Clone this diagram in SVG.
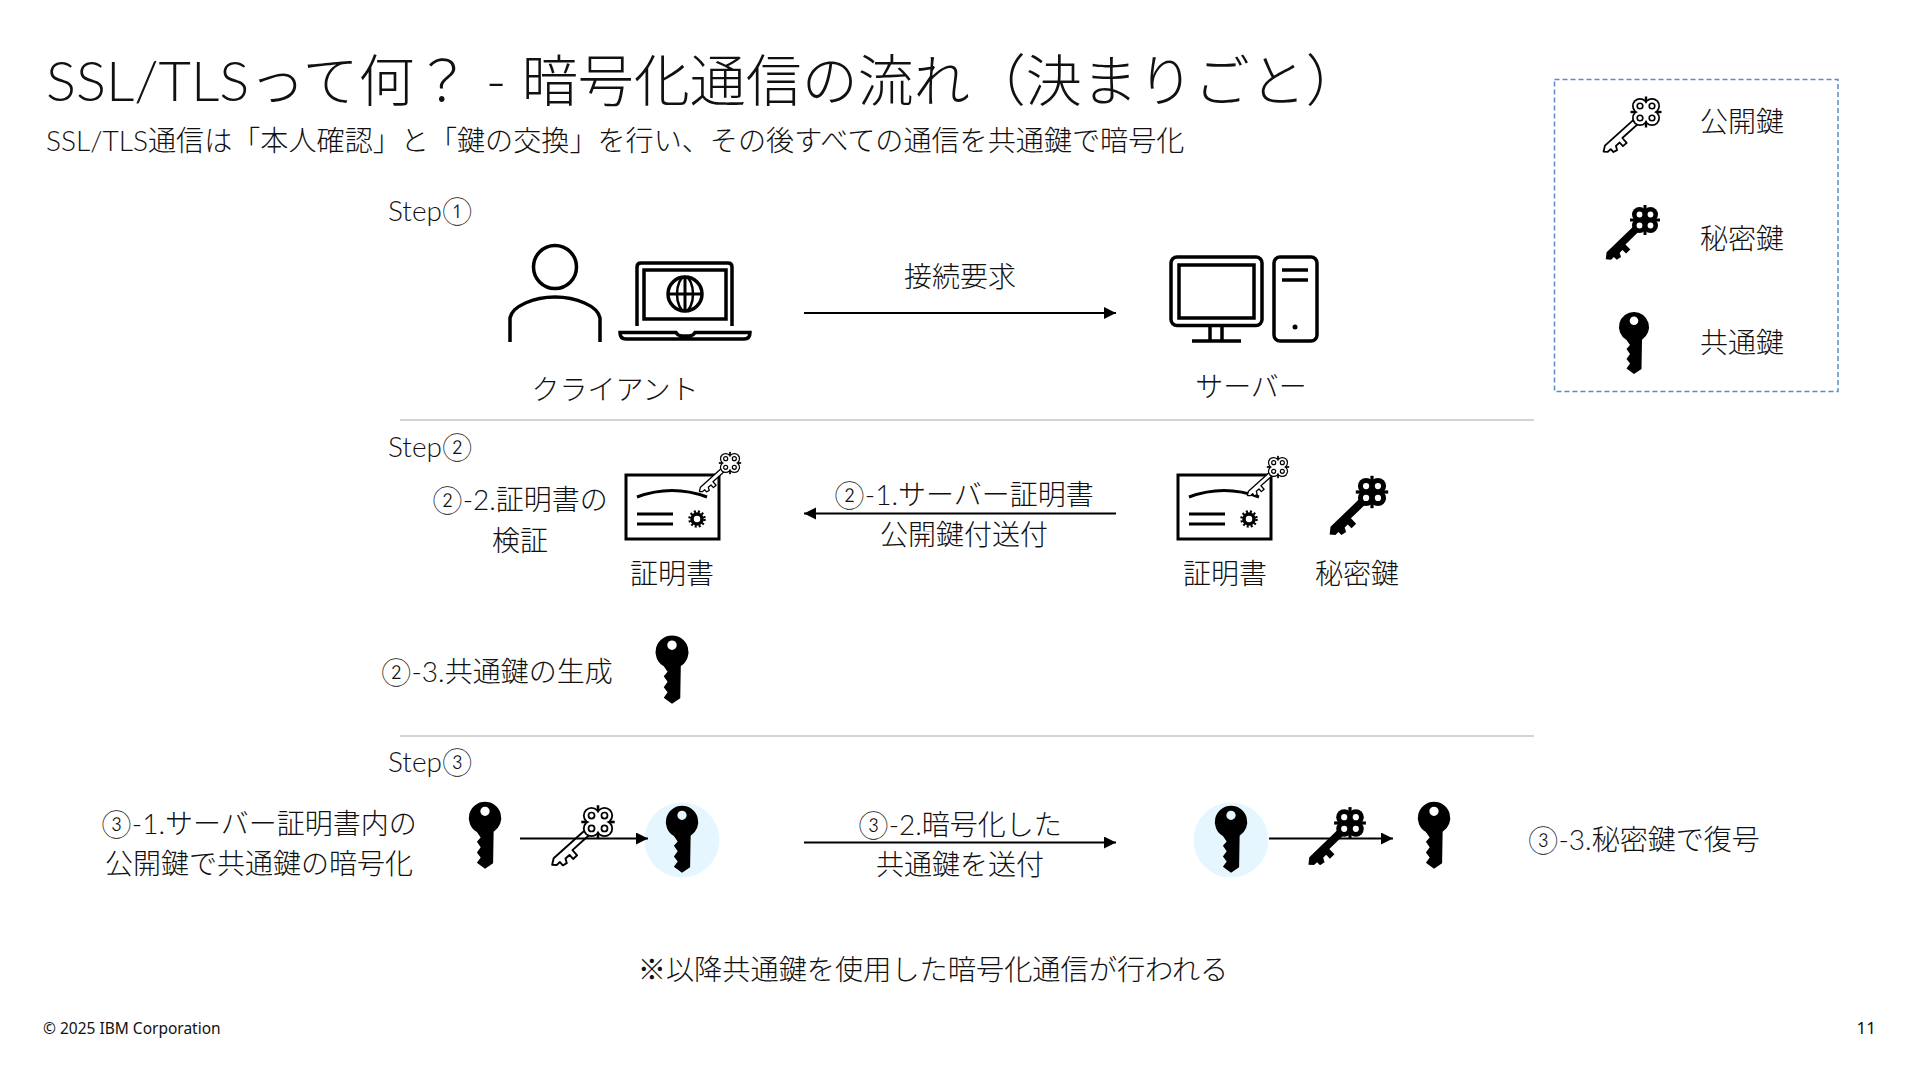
<svg xmlns="http://www.w3.org/2000/svg" xmlns:xlink="http://www.w3.org/1999/xlink" width="1920" height="1080" viewBox="0 0 1920 1080">
<style>
text{font-family:"Lato","Noto Sans CJK JP",sans-serif;font-weight:300;fill:#111;font-size:28px}
.t{font-size:56px}
.s{font-size:28.100px}
.m{text-anchor:middle}
.f{font-family:"Noto Sans","Noto Sans CJK JP",sans-serif;font-weight:400;font-size:15.500px}
.ln{fill:none;stroke:#000;stroke-width:3.500}
.ln2{fill:none;stroke:#000;stroke-width:3}
.sep{stroke:#d4d4d4;stroke-width:2}
.con{stroke:#000;stroke-width:2;fill:none}
.tint{fill:#e5f6ff}
</style>
<defs>
<marker id="ah" markerUnits="userSpaceOnUse" markerWidth="13" markerHeight="13" refX="12" refY="6" orient="auto"><path d="M0 0L12 6L0 12Z" fill="#000"/></marker>
<g id="solid"><path fill-rule="evenodd" d="M0-15A15 15 0 0 1 8 12.7L7.500 42L0 47L-7.500 41.500L-4 36.500L-7.500 32L-4 27L-7.500 22L-4 18L-7.500 13A15 15 0 0 1 0-15ZM0-10.500A4.300 4.300 0 1 0 0-1.900A4.300 4.300 0 1 0 0-10.500Z" fill="#000"/></g>
<g id="keyPub">
<path transform="rotate(48)" fill="#fff" stroke="#000" stroke-width="1.800" stroke-linejoin="round" d="M-2.500 12L-2.500 53L1 58L4 55L4 51L8 51L9 47L5 45L5 40L10 40L10 35L3.500 35L3.500 12Z"/>
<g fill="#000"><circle cx="-6" cy="-6" r="8"/><circle cx="6" cy="-6" r="8"/><circle cx="-6" cy="6" r="8"/><circle cx="6" cy="6" r="8"/><rect x="-1.200" y="-15.500" width="2.400" height="31"/><rect x="-15.500" y="-1.200" width="31" height="2.400"/></g>
<g fill="#fff"><circle cx="-6" cy="-6" r="6.300"/><circle cx="6" cy="-6" r="6.300"/><circle cx="-6" cy="6" r="6.300"/><circle cx="6" cy="6" r="6.300"/><rect x="-6" y="-6" width="12" height="12"/></g>
<g fill="none" stroke="#000" stroke-width="1.600"><circle cx="-6" cy="-6" r="2.800"/><circle cx="6" cy="-6" r="2.800"/><circle cx="-6" cy="6" r="2.800"/><circle cx="6" cy="6" r="2.800"/></g>
</g>
<g id="keyPri">
<path transform="rotate(46)" fill="#000" d="M-3.500 10L-3.500 50L1 55.500L5 52L5 48L9 48L10 43L6 41L6 37L11 37L11 31L4 31L4 10Z"/>
<g fill="#000"><circle cx="-5.500" cy="-5.500" r="7.500"/><circle cx="5.500" cy="-5.500" r="7.500"/><circle cx="-5.500" cy="5.500" r="7.500"/><circle cx="5.500" cy="5.500" r="7.500"/><rect x="-1.500" y="-15" width="3" height="30"/><rect x="-15" y="-1.500" width="30" height="3"/></g>
<g fill="#fff"><circle cx="-5.500" cy="-5.500" r="2.900"/><circle cx="5.500" cy="-5.500" r="2.900"/><circle cx="-5.500" cy="5.500" r="2.900"/><circle cx="5.500" cy="5.500" r="2.900"/></g>
</g>
<g id="cert">
<rect x="0" y="0" width="93" height="64" fill="#fff" stroke="#000" stroke-width="3"/>
<path class="ln2" d="M11 22Q46 9 81 22"/>
<path class="ln2" d="M11 39H47M11 49H47"/>
<circle cx="71" cy="44" r="5" fill="#fff" stroke="#000" stroke-width="3.500"/>
<circle cx="71" cy="44" r="7.500" fill="none" stroke="#000" stroke-width="2.500" stroke-dasharray="2 2"/>
</g>
</defs>

<g id="title">
<text class="t" x="46" y="101">SSL/TLSって何？ - 暗号化通信の流れ（決まりごと）</text>
<text class="s" x="46" y="151">SSL/TLS通信は「本人確認」と「鍵の交換」を行い、その後すべての通信を共通鍵で暗号化</text>
</g>

<g id="legend">
<rect x="1554.500" y="79.500" width="283.500" height="312" fill="none" stroke="#5b8bc9" stroke-width="1.500" stroke-dasharray="5 3"/>
<use href="#keyPub" transform="translate(1646 112)"/>
<text x="1700" y="132">公開鍵</text>
<use href="#keyPri" transform="translate(1645 220)"/>
<text x="1700" y="249">秘密鍵</text>
<use href="#solid" transform="translate(1634 327)"/>
<text x="1700" y="353">共通鍵</text>
</g>

<g id="separators">
<line class="sep" x1="400" y1="420" x2="1534" y2="420"/>
<line class="sep" x1="400" y1="736" x2="1534" y2="736"/>
</g>

<g id="step1">
<text x="388" y="221">Step①</text>
</g>

<g id="client">
<circle class="ln" cx="555" cy="267" r="21.500"/>
<path class="ln" d="M510 342V318C512 306 534 297 555 297C576 297 598 306 600 318V342"/>
<path class="ln" d="M637 326V267Q637 263 641 263H728Q732 263 732 267V326"/>
<rect class="ln" x="644" y="270" width="82" height="49"/>
<circle class="ln" cx="685" cy="294" r="17"/>
<ellipse cx="685" cy="294" rx="8" ry="17" fill="none" stroke="#000" stroke-width="2.500"/>
<path class="ln2" d="M668 294H702M685 277V311"/>
<path class="ln" d="M620 332.500H676Q678 336 682 336H689Q693 336 695 332.500H750Q750 339 744 339H626Q620 339 620 332.500Z"/>
<text class="m" x="615" y="400">クライアント</text>
</g>

<g id="server">
<rect class="ln" x="1171" y="257" width="91" height="68.500" rx="6"/>
<rect class="ln" x="1179" y="265" width="75" height="53"/>
<path class="ln" d="M1210 326V341M1222 326V341M1192 341H1241"/>
<rect class="ln" x="1274" y="257" width="43" height="84" rx="6"/>
<path class="ln" d="M1282 270H1308M1282 280H1308"/>
<circle cx="1295" cy="327" r="2.500" fill="#000"/>
<text class="m" x="1251" y="397">サーバー</text>
</g>

<g id="connectors">
<line class="con" x1="804" y1="313" x2="1116" y2="313" marker-end="url(#ah)"/>
<line class="con" x1="1116" y1="513.500" x2="804" y2="513.500" marker-end="url(#ah)"/>
<line class="con" x1="804" y1="842.500" x2="1116" y2="842.500" marker-end="url(#ah)"/>
</g>
<text class="m" x="960" y="287">接続要求</text>

<g id="step2">
<text x="388" y="457">Step②</text>
<text class="m" x="520" y="510">②-2.証明書の</text>
<text class="m" x="520" y="551">検証</text>
<text class="m" x="964" y="505">②-1.サーバー証明書</text>
<text class="m" x="964" y="545">公開鍵付送付</text>
</g>
<g id="cert-client">
<use href="#cert" transform="translate(626 475)"/>
<use href="#keyPub" transform="translate(730 463) scale(.72)"/>
<text class="m" x="672" y="584">証明書</text>
</g>
<g id="cert-server">
<use href="#cert" transform="translate(1178 475)"/>
<use href="#keyPub" transform="translate(1278 467) scale(.72)"/>
<text class="m" x="1225" y="584">証明書</text>
</g>
<g id="private-server">
<use href="#keyPri" transform="translate(1372 492) scale(1.080)"/>
<text class="m" x="1357" y="584">秘密鍵</text>
</g>
<g id="shared-gen">
<text x="381" y="682">②-3.共通鍵の生成</text>
<use href="#solid" transform="translate(672 652) scale(1.100)"/>
</g>

<g id="step3">
<text x="388" y="772">Step③</text>
<text class="m" x="259" y="834">③-1.サーバー証明書内の</text>
<text class="m" x="259" y="874">公開鍵で共通鍵の暗号化</text>
<text class="m" x="960" y="835">③-2.暗号化した</text>
<text class="m" x="960" y="875">共通鍵を送付</text>
<text x="1528" y="850">③-3.秘密鍵で復号</text>
</g>
<g id="encrypt">
<use href="#solid" transform="translate(485 818) scale(1.080)"/>
<use href="#keyPub" transform="translate(598 822) scale(1.080)"/>
<circle class="tint" cx="682" cy="840" r="37.500"/>
<use href="#solid" transform="translate(682 822) scale(1.080)"/>
<line class="con" x1="520" y1="838.500" x2="648" y2="838.500" marker-end="url(#ah)"/>
</g>
<g id="decrypt">
<circle class="tint" cx="1231" cy="840" r="37.500"/>
<use href="#solid" transform="translate(1231 822) scale(1.080)"/>
<use href="#keyPri" transform="translate(1350 823) scale(1.060)"/>
<line class="con" x1="1269" y1="838.500" x2="1393" y2="838.500" marker-end="url(#ah)"/>
<use href="#solid" transform="translate(1434 818) scale(1.080)"/>
</g>

<text class="m" id="note" style="font-size:28.200px" x="933" y="980">※以降共通鍵を使用した暗号化通信が行われる</text>
<g id="footer">
<text class="f" x="43" y="1034">© 2025 IBM Corporation</text>
<text class="f" x="1876" y="1034" text-anchor="end" style="font-size:17px">11</text>
</g>
</svg>
